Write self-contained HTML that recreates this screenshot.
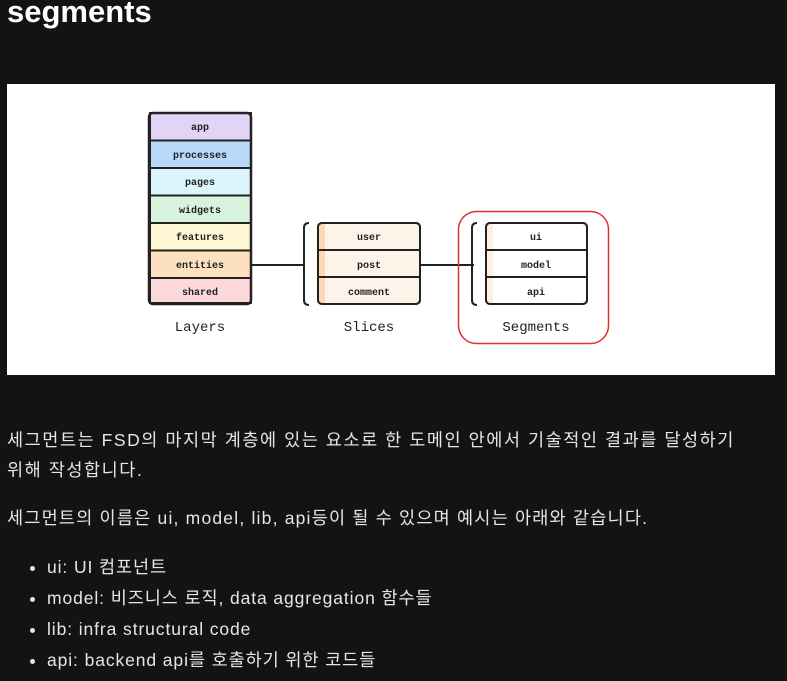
<!DOCTYPE html>
<html><head><meta charset="utf-8"><style>
body{margin:0;background:#131313;width:787px;height:681px;overflow:hidden;font-family:"Liberation Sans","Noto Sans CJK KR",sans-serif;color:#e6e6e6;position:relative}
h1{position:absolute;left:7px;top:-6px;margin:0;font-size:31px;font-weight:bold;color:#fff}
.img{position:absolute;left:7px;top:84px;width:768px;height:291px;background:#fff}
p,li{font-size:17.5px;letter-spacing:0.9px;margin:0}
.t{position:absolute;left:7px}
ul{position:absolute;left:7px;top:552px;margin:0;padding-left:40px}
li{line-height:31px}
</style></head><body>
<h1>segments</h1>
<div class="img"></div>
<svg style="position:absolute;left:0;top:0" width="787" height="400" font-family="'Liberation Mono',monospace">
<g stroke="#222" stroke-width="2">
<rect x="150" y="113" width="101" height="27.5" fill="#e0d5f5"/>
<rect x="150" y="140.5" width="101" height="27.5" fill="#b8d9f8"/>
<rect x="150" y="168" width="101" height="27.5" fill="#dcf5fd"/>
<rect x="150" y="195.5" width="101" height="27.5" fill="#d8f3dc"/>
<rect x="150" y="223" width="101" height="27.5" fill="#fff7d4"/>
<rect x="150" y="250.5" width="101" height="27.5" fill="#fde0c0"/>
<rect x="150" y="278" width="101" height="25" fill="#fdd8da"/>
<rect x="149" y="113" width="102" height="191" rx="4" fill="none" stroke-width="2.5"/>
<rect x="318" y="223" width="102" height="81" rx="4" fill="#fdf3e8"/>
<rect x="319" y="224" width="6" height="79" fill="#fcd9b4" stroke="none"/>
<line x1="318" y1="250" x2="420" y2="250"/><line x1="318" y1="277" x2="420" y2="277"/>
<rect x="318" y="223" width="102" height="81" rx="4" fill="none"/>
<rect x="486" y="223" width="101" height="81" rx="4" fill="#fff"/>
<rect x="487" y="224" width="6" height="79" fill="#fdf0e2" stroke="none"/>
<line x1="486" y1="250" x2="587" y2="250"/><line x1="486" y1="277" x2="587" y2="277"/>
<rect x="486" y="223" width="101" height="81" rx="4" fill="none"/>
<line x1="251" y1="265" x2="305" y2="265"/><line x1="420" y1="265" x2="474" y2="265"/>
<path d="M309 223 Q304 223 304 228 L304 300 Q304 305 309 305" fill="none"/>
<path d="M477 223 Q472 223 472 228 L472 300 Q472 305 477 305" fill="none"/>
</g>
<rect x="458.5" y="211.5" width="150" height="132" rx="18" fill="none" stroke="#e03030" stroke-width="1.5"/>
<g font-size="10" font-weight="bold" fill="#222" text-anchor="middle">
<text x="200" y="130">app</text><text x="200" y="158">processes</text><text x="200" y="185">pages</text><text x="200" y="213">widgets</text><text x="200" y="240">features</text><text x="200" y="268">entities</text><text x="200" y="295">shared</text>
<text x="369" y="240">user</text><text x="369" y="268">post</text><text x="369" y="295">comment</text>
<text x="536" y="240">ui</text><text x="536" y="268">model</text><text x="536" y="295">api</text>
</g>
<g font-size="14" fill="#222" text-anchor="middle">
<text x="200" y="331">Layers</text><text x="369" y="331">Slices</text><text x="536" y="331">Segments</text>
</g>
</svg>
<p class="t" style="top:425px;line-height:30px;letter-spacing:1.55px">세그먼트는 FSD의 마지막 계층에 있는 요소로 한 도메인 안에서 기술적인 결과를 달성하기<br>위해 작성합니다.</p>
<p class="t" style="top:505px;letter-spacing:1.2px">세그먼트의 이름은 ui, model, lib, api등이 될 수 있으며 예시는 아래와 같습니다.</p>
<ul>
<li>ui: UI 컴포넌트</li>
<li>model: 비즈니스 로직, data aggregation 함수들</li>
<li>lib: infra structural code</li>
<li>api: backend api를 호출하기 위한 코드들</li>
</ul>
</body></html>
